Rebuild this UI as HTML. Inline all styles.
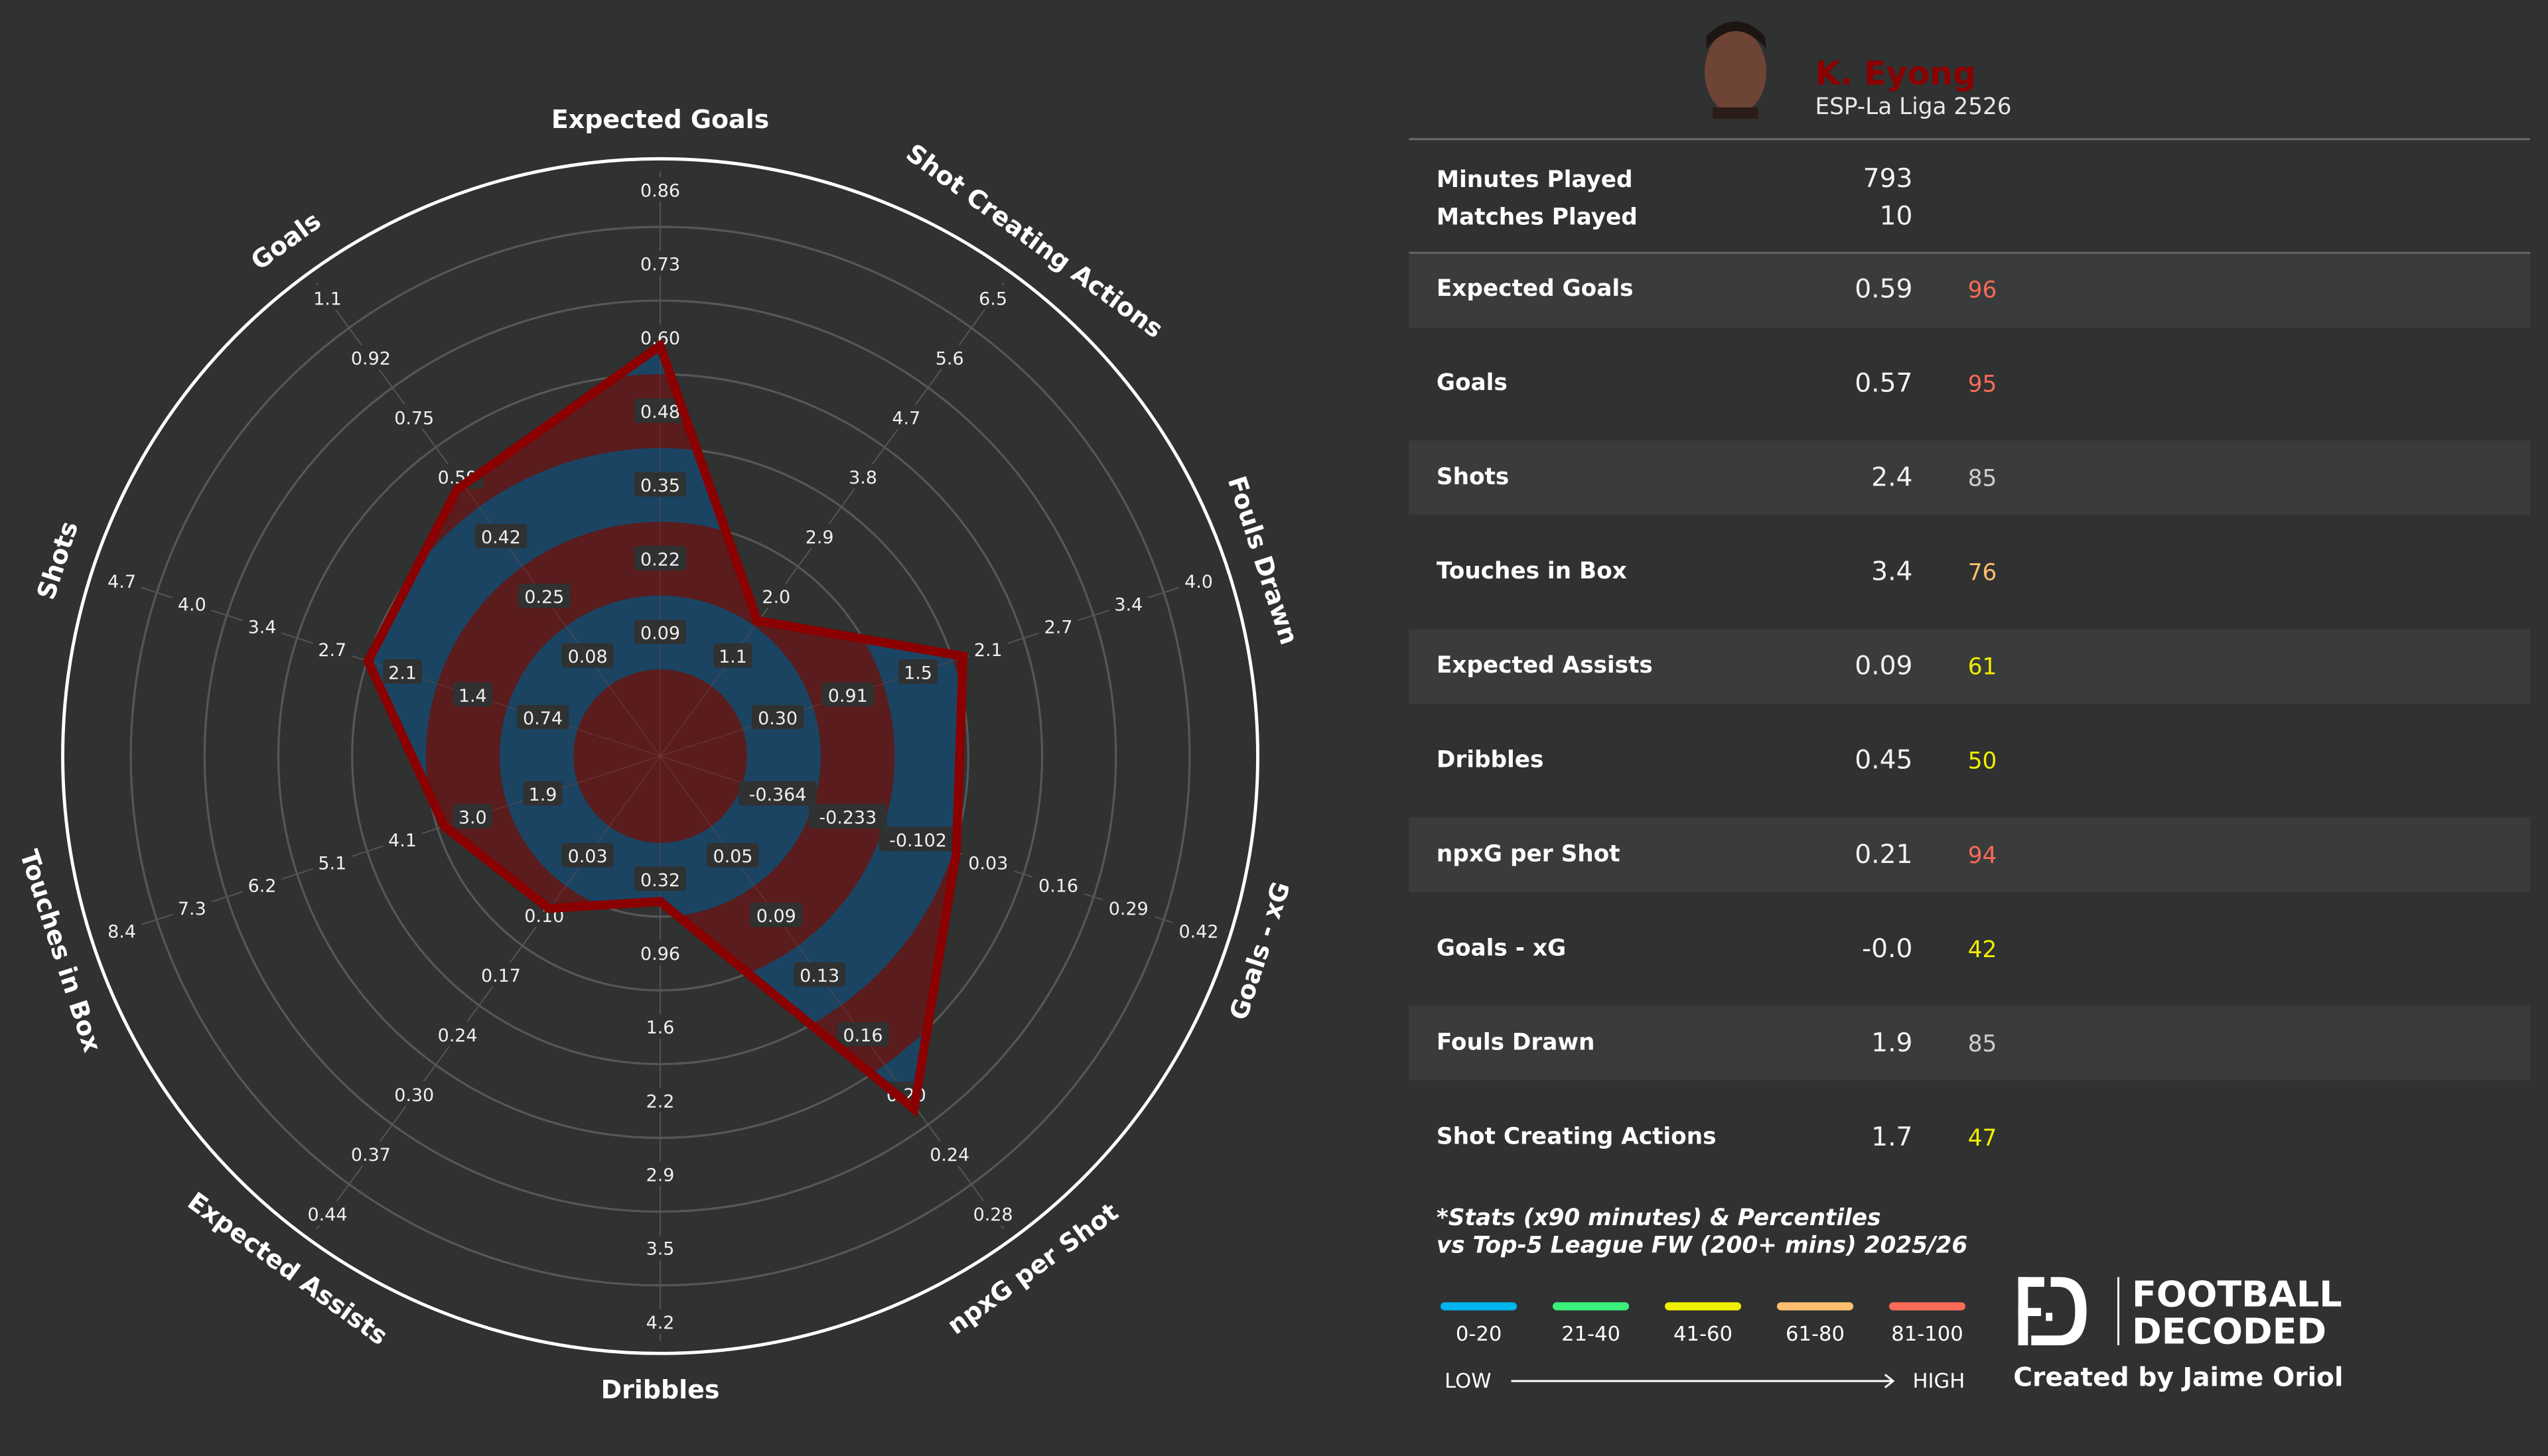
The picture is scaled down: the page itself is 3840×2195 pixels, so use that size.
<!DOCTYPE html>
<html><head><meta charset="utf-8"><style>
html,body{margin:0;padding:0;background:#303131;}
svg{display:block}
text{font-family:"DejaVu Sans","Liberation Sans",sans-serif;fill:#fff}
.tk rect{fill:#303131}
.tk text{font-size:11px;text-anchor:middle;fill:#f0f0f0}
.ax{font-size:15.5px;font-weight:bold;text-anchor:middle;dominant-baseline:middle}
.lb{font-size:14px;font-weight:bold}
.vl{font-size:16px;text-anchor:end;fill:#f2f2f2}
.pc{font-size:14px}
</style></head><body>
<svg width="3840" height="2195" viewBox="0 0 1568 896" xmlns="http://www.w3.org/2000/svg">
<rect width="1568" height="896" fill="#303131"/>
<defs>
<clipPath id="poly"><polygon points="406.2,212.7 466.1,381.9 592.7,403.8 588.5,524.6 562.5,682.4 406.2,554.8 337.5,559.0 273.4,508.5 226.5,406.9 281.2,301.2"/></clipPath>
</defs>
<g transform="translate(406.3,465.3)">
 <g fill="none" stroke="#575757" stroke-width="1.3">
  <circle r="98.8"/><circle r="144.2"/><circle r="189.6"/><circle r="235"/><circle r="280.4"/><circle r="325.8"/>
 </g>
 <circle r="367.7" fill="none" stroke="#ffffff" stroke-width="2"/>
 <g stroke="#555" stroke-width="0.8">
  <line x1="0" y1="0" x2="0" y2="-360"/><line x1="0" y1="0" x2="0" y2="-360" transform="rotate(36)"/><line x1="0" y1="0" x2="0" y2="-360" transform="rotate(72)"/><line x1="0" y1="0" x2="0" y2="-360" transform="rotate(108)"/><line x1="0" y1="0" x2="0" y2="-360" transform="rotate(144)"/><line x1="0" y1="0" x2="0" y2="-360" transform="rotate(180)"/><line x1="0" y1="0" x2="0" y2="-360" transform="rotate(216)"/><line x1="0" y1="0" x2="0" y2="-360" transform="rotate(252)"/><line x1="0" y1="0" x2="0" y2="-360" transform="rotate(288)"/><line x1="0" y1="0" x2="0" y2="-360" transform="rotate(324)"/>
 </g>
</g>
<g clip-path="url(#poly)">
 <g transform="translate(406.3,465.3)">
  <circle r="325.8" fill="#5a1c1d"/>
  <circle r="280.4" fill="#1b4462"/>
  <circle r="235" fill="#5a1c1d"/>
  <circle r="189.6" fill="#1b4462"/>
  <circle r="144.2" fill="#5a1c1d"/>
  <circle r="98.8" fill="#1b4462"/>
  <circle r="53.4" fill="#5a1c1d"/>
  <g stroke="#7a4a4a" stroke-width="0.5" opacity="0.6">
  <line x1="0" y1="0" x2="0" y2="-360"/><line x1="0" y1="0" x2="0" y2="-360" transform="rotate(36)"/><line x1="0" y1="0" x2="0" y2="-360" transform="rotate(72)"/><line x1="0" y1="0" x2="0" y2="-360" transform="rotate(108)"/><line x1="0" y1="0" x2="0" y2="-360" transform="rotate(144)"/><line x1="0" y1="0" x2="0" y2="-360" transform="rotate(180)"/><line x1="0" y1="0" x2="0" y2="-360" transform="rotate(216)"/><line x1="0" y1="0" x2="0" y2="-360" transform="rotate(252)"/><line x1="0" y1="0" x2="0" y2="-360" transform="rotate(288)"/><line x1="0" y1="0" x2="0" y2="-360" transform="rotate(324)"/>
  </g>
 </g>
</g>

<g class="tk" transform="translate(406.3,465.3)">
 <g transform="rotate(0) translate(0,-76) rotate(0)"><rect x="-16" y="-8" width="32" height="15" rx="2"/><text y="4">0.09</text></g>
 <g transform="rotate(0) translate(0,-121.4) rotate(0)"><rect x="-16" y="-8" width="32" height="15" rx="2"/><text y="4">0.22</text></g>
 <g transform="rotate(0) translate(0,-166.8) rotate(0)"><rect x="-16" y="-8" width="32" height="15" rx="2"/><text y="4">0.35</text></g>
 <g transform="rotate(0) translate(0,-212.2) rotate(0)"><rect x="-16" y="-8" width="32" height="15" rx="2"/><text y="4">0.48</text></g>
 <g transform="rotate(0) translate(0,-257.6) rotate(0)"><rect x="-16" y="-8" width="32" height="15" rx="2"/><text y="4">0.60</text></g>
 <g transform="rotate(0) translate(0,-303) rotate(0)"><rect x="-16" y="-8" width="32" height="15" rx="2"/><text y="4">0.73</text></g>
 <g transform="rotate(0) translate(0,-348.4) rotate(0)"><rect x="-16" y="-8" width="32" height="15" rx="2"/><text y="4">0.86</text></g>
 <g transform="rotate(36) translate(0,-76) rotate(-36)"><rect x="-12" y="-8" width="24" height="15" rx="2"/><text y="4">1.1</text></g>
 <g transform="rotate(36) translate(0,-121.4) rotate(-36)"><rect x="-12" y="-8" width="24" height="15" rx="2"/><text y="4">2.0</text></g>
 <g transform="rotate(36) translate(0,-166.8) rotate(-36)"><rect x="-12" y="-8" width="24" height="15" rx="2"/><text y="4">2.9</text></g>
 <g transform="rotate(36) translate(0,-212.2) rotate(-36)"><rect x="-12" y="-8" width="24" height="15" rx="2"/><text y="4">3.8</text></g>
 <g transform="rotate(36) translate(0,-257.6) rotate(-36)"><rect x="-12" y="-8" width="24" height="15" rx="2"/><text y="4">4.7</text></g>
 <g transform="rotate(36) translate(0,-303) rotate(-36)"><rect x="-12" y="-8" width="24" height="15" rx="2"/><text y="4">5.6</text></g>
 <g transform="rotate(36) translate(0,-348.4) rotate(-36)"><rect x="-12" y="-8" width="24" height="15" rx="2"/><text y="4">6.5</text></g>
 <g transform="rotate(72) translate(0,-76) rotate(-72)"><rect x="-16" y="-8" width="32" height="15" rx="2"/><text y="4">0.30</text></g>
 <g transform="rotate(72) translate(0,-121.4) rotate(-72)"><rect x="-16" y="-8" width="32" height="15" rx="2"/><text y="4">0.91</text></g>
 <g transform="rotate(72) translate(0,-166.8) rotate(-72)"><rect x="-12" y="-8" width="24" height="15" rx="2"/><text y="4">1.5</text></g>
 <g transform="rotate(72) translate(0,-212.2) rotate(-72)"><rect x="-12" y="-8" width="24" height="15" rx="2"/><text y="4">2.1</text></g>
 <g transform="rotate(72) translate(0,-257.6) rotate(-72)"><rect x="-12" y="-8" width="24" height="15" rx="2"/><text y="4">2.7</text></g>
 <g transform="rotate(72) translate(0,-303) rotate(-72)"><rect x="-12" y="-8" width="24" height="15" rx="2"/><text y="4">3.4</text></g>
 <g transform="rotate(72) translate(0,-348.4) rotate(-72)"><rect x="-12" y="-8" width="24" height="15" rx="2"/><text y="4">4.0</text></g>
 <g transform="rotate(108) translate(0,-76) rotate(-108)"><rect x="-24" y="-8" width="48" height="15" rx="2"/><text y="4">-0.364</text></g>
 <g transform="rotate(108) translate(0,-121.4) rotate(-108)"><rect x="-24" y="-8" width="48" height="15" rx="2"/><text y="4">-0.233</text></g>
 <g transform="rotate(108) translate(0,-166.8) rotate(-108)"><rect x="-24" y="-8" width="48" height="15" rx="2"/><text y="4">-0.102</text></g>
 <g transform="rotate(108) translate(0,-212.2) rotate(-108)"><rect x="-16" y="-8" width="32" height="15" rx="2"/><text y="4">0.03</text></g>
 <g transform="rotate(108) translate(0,-257.6) rotate(-108)"><rect x="-16" y="-8" width="32" height="15" rx="2"/><text y="4">0.16</text></g>
 <g transform="rotate(108) translate(0,-303) rotate(-108)"><rect x="-16" y="-8" width="32" height="15" rx="2"/><text y="4">0.29</text></g>
 <g transform="rotate(108) translate(0,-348.4) rotate(-108)"><rect x="-16" y="-8" width="32" height="15" rx="2"/><text y="4">0.42</text></g>
 <g transform="rotate(144) translate(0,-76) rotate(-144)"><rect x="-16" y="-8" width="32" height="15" rx="2"/><text y="4">0.05</text></g>
 <g transform="rotate(144) translate(0,-121.4) rotate(-144)"><rect x="-16" y="-8" width="32" height="15" rx="2"/><text y="4">0.09</text></g>
 <g transform="rotate(144) translate(0,-166.8) rotate(-144)"><rect x="-16" y="-8" width="32" height="15" rx="2"/><text y="4">0.13</text></g>
 <g transform="rotate(144) translate(0,-212.2) rotate(-144)"><rect x="-16" y="-8" width="32" height="15" rx="2"/><text y="4">0.16</text></g>
 <g transform="rotate(144) translate(0,-257.6) rotate(-144)"><rect x="-16" y="-8" width="32" height="15" rx="2"/><text y="4">0.20</text></g>
 <g transform="rotate(144) translate(0,-303) rotate(-144)"><rect x="-16" y="-8" width="32" height="15" rx="2"/><text y="4">0.24</text></g>
 <g transform="rotate(144) translate(0,-348.4) rotate(-144)"><rect x="-16" y="-8" width="32" height="15" rx="2"/><text y="4">0.28</text></g>
 <g transform="rotate(180) translate(0,-76) rotate(-180)"><rect x="-16" y="-8" width="32" height="15" rx="2"/><text y="4">0.32</text></g>
 <g transform="rotate(180) translate(0,-121.4) rotate(-180)"><rect x="-16" y="-8" width="32" height="15" rx="2"/><text y="4">0.96</text></g>
 <g transform="rotate(180) translate(0,-166.8) rotate(-180)"><rect x="-12" y="-8" width="24" height="15" rx="2"/><text y="4">1.6</text></g>
 <g transform="rotate(180) translate(0,-212.2) rotate(-180)"><rect x="-12" y="-8" width="24" height="15" rx="2"/><text y="4">2.2</text></g>
 <g transform="rotate(180) translate(0,-257.6) rotate(-180)"><rect x="-12" y="-8" width="24" height="15" rx="2"/><text y="4">2.9</text></g>
 <g transform="rotate(180) translate(0,-303) rotate(-180)"><rect x="-12" y="-8" width="24" height="15" rx="2"/><text y="4">3.5</text></g>
 <g transform="rotate(180) translate(0,-348.4) rotate(-180)"><rect x="-12" y="-8" width="24" height="15" rx="2"/><text y="4">4.2</text></g>
 <g transform="rotate(216) translate(0,-76) rotate(-216)"><rect x="-16" y="-8" width="32" height="15" rx="2"/><text y="4">0.03</text></g>
 <g transform="rotate(216) translate(0,-121.4) rotate(-216)"><rect x="-16" y="-8" width="32" height="15" rx="2"/><text y="4">0.10</text></g>
 <g transform="rotate(216) translate(0,-166.8) rotate(-216)"><rect x="-16" y="-8" width="32" height="15" rx="2"/><text y="4">0.17</text></g>
 <g transform="rotate(216) translate(0,-212.2) rotate(-216)"><rect x="-16" y="-8" width="32" height="15" rx="2"/><text y="4">0.24</text></g>
 <g transform="rotate(216) translate(0,-257.6) rotate(-216)"><rect x="-16" y="-8" width="32" height="15" rx="2"/><text y="4">0.30</text></g>
 <g transform="rotate(216) translate(0,-303) rotate(-216)"><rect x="-16" y="-8" width="32" height="15" rx="2"/><text y="4">0.37</text></g>
 <g transform="rotate(216) translate(0,-348.4) rotate(-216)"><rect x="-16" y="-8" width="32" height="15" rx="2"/><text y="4">0.44</text></g>
 <g transform="rotate(252) translate(0,-76) rotate(-252)"><rect x="-12" y="-8" width="24" height="15" rx="2"/><text y="4">1.9</text></g>
 <g transform="rotate(252) translate(0,-121.4) rotate(-252)"><rect x="-12" y="-8" width="24" height="15" rx="2"/><text y="4">3.0</text></g>
 <g transform="rotate(252) translate(0,-166.8) rotate(-252)"><rect x="-12" y="-8" width="24" height="15" rx="2"/><text y="4">4.1</text></g>
 <g transform="rotate(252) translate(0,-212.2) rotate(-252)"><rect x="-12" y="-8" width="24" height="15" rx="2"/><text y="4">5.1</text></g>
 <g transform="rotate(252) translate(0,-257.6) rotate(-252)"><rect x="-12" y="-8" width="24" height="15" rx="2"/><text y="4">6.2</text></g>
 <g transform="rotate(252) translate(0,-303) rotate(-252)"><rect x="-12" y="-8" width="24" height="15" rx="2"/><text y="4">7.3</text></g>
 <g transform="rotate(252) translate(0,-348.4) rotate(-252)"><rect x="-12" y="-8" width="24" height="15" rx="2"/><text y="4">8.4</text></g>
 <g transform="rotate(288) translate(0,-76) rotate(-288)"><rect x="-16" y="-8" width="32" height="15" rx="2"/><text y="4">0.74</text></g>
 <g transform="rotate(288) translate(0,-121.4) rotate(-288)"><rect x="-12" y="-8" width="24" height="15" rx="2"/><text y="4">1.4</text></g>
 <g transform="rotate(288) translate(0,-166.8) rotate(-288)"><rect x="-12" y="-8" width="24" height="15" rx="2"/><text y="4">2.1</text></g>
 <g transform="rotate(288) translate(0,-212.2) rotate(-288)"><rect x="-12" y="-8" width="24" height="15" rx="2"/><text y="4">2.7</text></g>
 <g transform="rotate(288) translate(0,-257.6) rotate(-288)"><rect x="-12" y="-8" width="24" height="15" rx="2"/><text y="4">3.4</text></g>
 <g transform="rotate(288) translate(0,-303) rotate(-288)"><rect x="-12" y="-8" width="24" height="15" rx="2"/><text y="4">4.0</text></g>
 <g transform="rotate(288) translate(0,-348.4) rotate(-288)"><rect x="-12" y="-8" width="24" height="15" rx="2"/><text y="4">4.7</text></g>
 <g transform="rotate(324) translate(0,-76) rotate(-324)"><rect x="-16" y="-8" width="32" height="15" rx="2"/><text y="4">0.08</text></g>
 <g transform="rotate(324) translate(0,-121.4) rotate(-324)"><rect x="-16" y="-8" width="32" height="15" rx="2"/><text y="4">0.25</text></g>
 <g transform="rotate(324) translate(0,-166.8) rotate(-324)"><rect x="-16" y="-8" width="32" height="15" rx="2"/><text y="4">0.42</text></g>
 <g transform="rotate(324) translate(0,-212.2) rotate(-324)"><rect x="-16" y="-8" width="32" height="15" rx="2"/><text y="4">0.59</text></g>
 <g transform="rotate(324) translate(0,-257.6) rotate(-324)"><rect x="-16" y="-8" width="32" height="15" rx="2"/><text y="4">0.75</text></g>
 <g transform="rotate(324) translate(0,-303) rotate(-324)"><rect x="-16" y="-8" width="32" height="15" rx="2"/><text y="4">0.92</text></g>
 <g transform="rotate(324) translate(0,-348.4) rotate(-324)"><rect x="-12" y="-8" width="24" height="15" rx="2"/><text y="4">1.1</text></g>
</g>
<polygon points="406.2,212.7 466.1,381.9 592.7,403.8 588.5,524.6 562.5,682.4 406.2,554.8 337.5,559.0 273.4,508.5 226.5,406.9 281.2,301.2" fill="none" stroke="#8b0000" stroke-width="5.5" stroke-linejoin="miter"/>

<g transform="translate(406.3,465.3)">
 <text class="ax" transform="rotate(0) translate(0,-391)">Expected Goals</text>
 <text class="ax" transform="rotate(36) translate(0,-391)">Shot Creating Actions</text>
 <text class="ax" transform="rotate(72) translate(0,-389)">Fouls Drawn</text>
 <text class="ax" transform="rotate(108) translate(0,-389) rotate(180)">Goals - xG</text>
 <text class="ax" transform="rotate(144) translate(0,-391) rotate(180)">npxG per Shot</text>
 <text class="ax" transform="rotate(180) translate(0,-391) rotate(180)">Dribbles</text>
 <text class="ax" transform="rotate(216) translate(0,-391) rotate(180)">Expected Assists</text>
 <text class="ax" transform="rotate(252) translate(0,-389) rotate(180)">Touches in Box</text>
 <text class="ax" transform="rotate(288) translate(0,-389)">Shots</text>
 <text class="ax" transform="rotate(324) translate(0,-391)">Goals</text>
</g>

<g>
 <ellipse cx="1068" cy="44" rx="19" ry="26" fill="#6e4436"/>
 <path d="M1050,30 Q1068,8 1087,30 L1086,22 Q1068,4 1050,22 Z" fill="#1d1512"/>
 <rect x="1054" y="66" width="28" height="7" fill="#2a1c18"/>
 <text x="1117" y="52" style="font-size:20px;font-weight:bold;fill:#8b0000">K. Eyong</text>
 <text x="1117" y="70" style="font-size:14px;fill:#e8e8e8">ESP-La Liga 2526</text>
 <line x1="867" y1="85.5" x2="1557" y2="85.5" stroke="#6a6a6a" stroke-width="1.2"/>
 <text class="lb" x="884" y="115">Minutes Played</text>
 <text class="vl" x="1177" y="115">793</text>
 <text class="lb" x="884" y="138">Matches Played</text>
 <text class="vl" x="1177" y="138">10</text>
 <line x1="867" y1="155.5" x2="1557" y2="155.5" stroke="#6a6a6a" stroke-width="1.2"/>
 <rect x="867" y="156" width="690" height="45.5" fill="#3a3b3b"/>
 <rect x="867" y="271" width="690" height="46" fill="#3a3b3b"/>
 <rect x="867" y="387" width="690" height="46" fill="#3a3b3b"/>
 <rect x="867" y="503" width="690" height="46" fill="#3a3b3b"/>
 <rect x="867" y="619" width="690" height="46" fill="#3a3b3b"/>
 <g>
  <text class="lb" x="884" y="182">Expected Goals</text><text class="vl" x="1177" y="183">0.59</text><text class="pc" x="1211" y="183" style="fill:#f96b57">96</text>
  <text class="lb" x="884" y="240">Goals</text><text class="vl" x="1177" y="241">0.57</text><text class="pc" x="1211" y="241" style="fill:#f96b57">95</text>
  <text class="lb" x="884" y="298">Shots</text><text class="vl" x="1177" y="299">2.4</text><text class="pc" x="1211" y="299" style="fill:#cfcfcf">85</text>
  <text class="lb" x="884" y="356">Touches in Box</text><text class="vl" x="1177" y="357">3.4</text><text class="pc" x="1211" y="357" style="fill:#fdbf6f">76</text>
  <text class="lb" x="884" y="414">Expected Assists</text><text class="vl" x="1177" y="415">0.09</text><text class="pc" x="1211" y="415" style="fill:#f0f000">61</text>
  <text class="lb" x="884" y="472">Dribbles</text><text class="vl" x="1177" y="473">0.45</text><text class="pc" x="1211" y="473" style="fill:#f0f000">50</text>
  <text class="lb" x="884" y="530">npxG per Shot</text><text class="vl" x="1177" y="531">0.21</text><text class="pc" x="1211" y="531" style="fill:#f96b57">94</text>
  <text class="lb" x="884" y="588">Goals - xG</text><text class="vl" x="1177" y="589">-0.0</text><text class="pc" x="1211" y="589" style="fill:#f0f000">42</text>
  <text class="lb" x="884" y="646">Fouls Drawn</text><text class="vl" x="1177" y="647">1.9</text><text class="pc" x="1211" y="647" style="fill:#cfcfcf">85</text>
  <text class="lb" x="884" y="704">Shot Creating Actions</text><text class="vl" x="1177" y="705">1.7</text><text class="pc" x="1211" y="705" style="fill:#f0f000">47</text>
 </g>
 <text x="884" y="754" style="font-size:14px;font-weight:bold;font-style:italic">*Stats (x90 minutes) &amp; Percentiles</text>
 <text x="884" y="771" style="font-size:14px;font-weight:bold;font-style:italic">vs Top-5 League FW (200+ mins) 2025/26</text>
 <g stroke-width="5" stroke-linecap="round">
  <line x1="889" y1="804" x2="931" y2="804" stroke="#00b4f0"/>
  <line x1="958" y1="804" x2="1000" y2="804" stroke="#3af07a"/>
  <line x1="1027" y1="804" x2="1069" y2="804" stroke="#f0f000"/>
  <line x1="1096" y1="804" x2="1138" y2="804" stroke="#fdbf6f"/>
  <line x1="1165" y1="804" x2="1207" y2="804" stroke="#f96b57"/>
 </g>
 <g style="font-size:12.5px;text-anchor:middle">
  <text x="910" y="825">0-20</text><text x="979" y="825">21-40</text><text x="1048" y="825">41-60</text><text x="1117" y="825">61-80</text><text x="1186" y="825">81-100</text>
 </g>
 <text x="889" y="854" style="font-size:12.5px">LOW</text>
 <text x="1177" y="854" style="font-size:12.5px">HIGH</text>
 <line x1="930" y1="850" x2="1164" y2="850" stroke="#fff" stroke-width="1.2"/>
 <path d="M1160,846 L1165,850 L1160,854" fill="none" stroke="#fff" stroke-width="1.2"/>
 <g fill="#fff">
  <rect x="1242" y="786" width="6" height="42"/>
  <rect x="1242" y="786" width="16" height="6"/>
  <rect x="1242" y="805" width="14" height="5"/>
  <rect x="1259" y="808" width="4" height="5"/>
  <path d="M1262,786 L1268,786 Q1284,786 1284,807 Q1284,828 1268,828 L1250,828 L1250,822 L1267,822 Q1277,822 1277,807 Q1277,792 1267,792 L1262,792 Z"/>
  <rect x="1303" y="786" width="1.2" height="42"/>
 </g>
 <text x="1312" y="804" style="font-size:22px;font-weight:bold">FOOTBALL</text>
 <text x="1312" y="827" style="font-size:22px;font-weight:bold">DECODED</text>
 <text x="1239" y="853" style="font-size:16px;font-weight:bold">Created by Jaime Oriol</text>
</g>
</svg>
</body></html>
